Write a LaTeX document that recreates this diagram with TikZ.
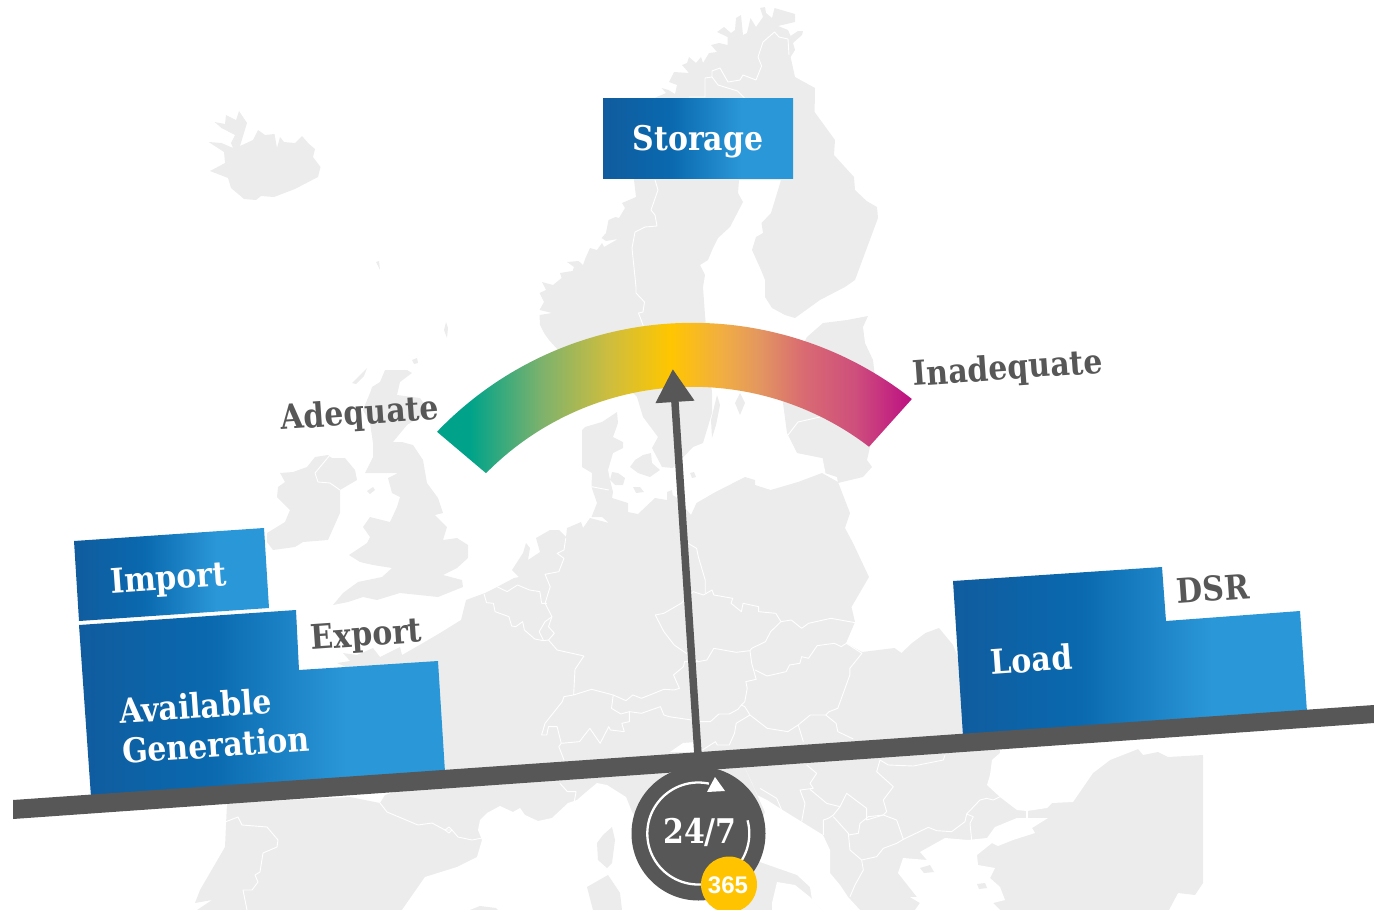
\documentclass[tikz,border=0pt]{standalone}
\usepackage{fontspec}
\setmainfont{DejaVu Serif}[FakeStretch=0.88]
\newfontfamily\numfont{Liberation Sans}
\usetikzlibrary{arrows.meta}
\definecolor{land}{HTML}{ECECEC}
\definecolor{ink}{HTML}{575757}
\definecolor{gold}{HTML}{FFC300}
\definecolor{gTeal}{HTML}{00A38A}
\definecolor{gGrn}{HTML}{7DB26C}
\definecolor{gOlv}{HTML}{CDBD3F}
\definecolor{gYel}{HTML}{FFC600}
\definecolor{gOra}{HTML}{F1AE42}
\definecolor{gTan}{HTML}{E39660}
\definecolor{gPink}{HTML}{D96B72}
\definecolor{gRose}{HTML}{CE4F7C}
\definecolor{gMag}{HTML}{BD0F83}
\definecolor{bA}{HTML}{105C9E}
\definecolor{bB}{HTML}{0A69AF}
\definecolor{bC}{HTML}{2A97D8}
\pgfdeclarehorizontalshading{gaugegrad}{100bp}{color(0bp)=(gTeal); color(28.5bp)=(gTeal); color(36bp)=(gGrn); color(43bp)=(gOlv); color(49.5bp)=(gYel); color(55bp)=(gOra); color(59bp)=(gTan); color(63.5bp)=(gPink); color(69bp)=(gRose); color(75bp)=(gMag); color(100bp)=(gMag)}
\pgfdeclarehorizontalshading{bluegrad}{100bp}{color(0bp)=(bA); color(25bp)=(bA); color(43bp)=(bB); color(61.5bp)=(bC); color(100bp)=(bC)}
\tikzset{
  landfill/.style={fill=land,draw=none},
  sea/.style={fill=white,draw=none},
  border/.style={draw=white,line width=0.9pt,line join=round,fill=none},
  zoomA/.style={shift={(440,440)},x=0.3444pt,y=-0.3333pt},
  zoomB/.style={shift={(760,740)},x=0.3333pt,y=-0.3333pt},
  slab/.style={font=\fontsize{34}{40}\selectfont\bfseries,inner sep=0pt},
  whitelabel/.style={slab,text=white,rotate=4},
  greylabel/.style={slab,text=ink,rotate=4},
  blueblock/.style={shading=bluegrad},
}
\begin{document}
\begin{tikzpicture}[x=1pt,y=-1pt]
\useasboundingbox (0,0) rectangle (1374,910);
% ---------- map: land ----------
% Iceland
\path[landfill] (208.6,142)--(224,152)--(225,163)--(210,171)--(228,178)--(231,188)--(244,199)--(256,200)--(261,196)--(274,197)--(295,189)--(318,177)--(320.5,167)--(313,157)--(315,149)--(309,144)--(302,136)--(295,143)--(284,142)--(280,137)--(277,148)--(274.5,134)--(265,135)--(258,130)--(253,140)--(240,146)--(247,123)--(239,111)--(236,120)--(226,115)--(225,124)--(214.5,122)--(221.5,128)--(235,135)--(231,143)--(233,148)--(221.5,143)--cycle;
\path[landfill] (376,262)--(379,261)--(380,270)--cycle;
\path[landfill] (446,322)--(448,328)--(447,338)--(444,330)--cycle;
% Great Britain
\path[landfill] (385,370)--(407,370)--(412,373)--(400,382)--(397,395)--(420,398)--(427,408)--(420,417)--(407,425)--(393,442)--(402,442)--(413,445)--(423,460)--(427,483)--(438,498)--(443,513)--(435,515)--(447,527)--(443,540)--(457,538)--(468,545)--(468,558)--(457,568)--(443,575)--(462,580)--(463,587)--(438,597)--(400,593)--(377,600)--(363,597)--(348,602)--(333,605)--(343,593)--(358,582)--(382,577)--(392,568)--(373,565)--(360,562)--(349,555)--(367,543)--(370,537)--(363,527)--(370,517)--(390,522)--(397,507)--(400,497)--(392,493)--(388,478)--(398,473)--(377,473)--(365,473)--(373,457)--(373,443)--(370,423)--(363,410)--(370,393)--(372,387)--(380,382)--cycle;
\path[landfill] (352,383)--(367,368)--(364,376)--(356,384)--cycle;
\path[landfill] (412,360)--(417,358)--(418,363)--(414,364)--cycle;
\path[landfill] (367,491)--(373,487)--(375,490)--(370,494)--cycle;
% Ireland
\path[landfill] (280,473)--(293,472)--(307,467)--(315,457)--(328,455)--(332,458)--(345,458)--(355,470)--(357,480)--(340,490)--(340,513)--(328,540)--(303,542)--(295,547)--(273,550)--(267,542)--(267,533)--(285,522)--(290,510)--(277,497)--(278,487)--(285,482)--cycle;
% Scandinavia and Finland
\path[landfill] (549,340)--(590,385)--(625,385)--(637,397)--(643,417)--(658,437)--(652,448)--(662,467)--(673,468)--(693,447)--(703,443)--(712,413)--(712,393)--(705,315)--(703,287)--(705,275)--(700,265)--(708,260)--(713,248)--(718,238)--(730,227)--(743,202)--(738,193)--(739,180)--(781,180)--(778,190)--(771,213)--(761.5,223)--(763,233)--(756,237)--(752,250)--(761,270)--(765,280)--(765,297)--(772,308)--(785,315)--(795,318)--(820,300)--(845,287)--(855,280)--(878,218)--(877,207)--(866.6,201)--(855,190)--(854,177)--(834,155)--(835,140)--(814.6,112)--(815,88)--(795,77)--(790.6,57)--(795,50)--(793,43)--(802,35)--(803,31)--(798,31)--(790.6,36)--(788,30)--(778,26)--(795,22)--(795,14)--(774.5,8)--(772,18)--(766,13)--(765,7)--(760,8)--(763,17)--(756,27)--(750.5,18)--(747,33)--(743,35)--(741,15)--(736,18)--(735,30)--(731,33)--(724,27)--(717,32)--(727.5,37)--(727.5,45)--(719,43)--(711,45)--(717,52)--(709,53)--(703,63)--(701,57)--(696,63)--(689,57)--(687,63)--(682,65)--(689,73)--(674,72)--(669,82)--(677,85)--(675,94)--(668.5,90)--(661.5,88)--(666,93)--(652,99)--(634,180)--(636,197)--(622,203)--(625,208)--(619,218)--(615.5,217)--(608.5,220)--(606,233)--(601.6,238)--(606,241)--(618,239)--(604,247)--(602,243)--(597,250)--(590,248)--(585.5,258)--(583,265)--(578.6,261)--(567,262)--(574,267)--(572.6,271)--(560,273)--(561.6,278)--(553,285)--(542,282)--(546,290)--(539.5,293)--(544,302)--(539.5,310)--(552,313)--(539.5,315)--(540,325)--(544,333)--cycle;
% Gotland, Oland
\path[landfill] (740,393)--(735,403)--(740,415)--(745,403)--cycle;
\path[landfill] (717,395)--(720,405)--(716,425)--(712,438)--(711,420)--cycle;
% Baltics
\path[landfill] (783,403)--(787,433)--(797,453)--(822,458)--(825,473)--(837,477)--(838,483)--(863,477)--(872,467)--(867,460)--(870,447)--(880,420)--(873,360)--(865,343)--(863,327)--(868,316)--(847,320)--(823,323)--(807,337)--(800,350)--(790,380)--cycle;
% Denmark islands
\path[landfill] (612,472)--(618,473)--(625,478)--(623,485)--(615,485)--(610,480)--cycle;
\path[landfill] (643,455)--(651,453)--(652,463)--(660,470)--(650,477)--(638,473)--(630,467)--(635,460)--cycle;
\path[landfill] (633,487)--(640,487)--(644,492)--(636,493)--cycle;
\path[landfill] (690,473)--(694,472)--(696,477)--(692,478)--cycle;
\path[landfill] (667,492)--(672,490)--(673,497)--(668,497)--cycle;
% Continental Europe
\path[landfill] (585,427)--(602,422)--(617,412)--(618,423)--(613,437)--(623,442)--(623,448)--(613,453)--(608,470)--(610,480)--(613,492)--(612,498)--(628,503)--(628,512)--(638,514)--(655,498)--(667,500)--(667,492)--(676,497)--(681,503)--(691,515)--(696.5,503)--(715.5,492)--(745,477)--(755,480)--(755,485)--(770.6,490)--(798,482)--(822,473)--(838,482)--(850,513)--(845,528)--(853,543)--(869,577)--(851.5,607)--(855,622)--(846,643)--(862,652)--(894.5,648)--(901.5,653)--(912,643)--(925.5,633)--(939,628)--(953,645)--(975,700)--(990,745)--(1138,749)--(1143,755)--(1158,752)--(1168,757)--(1203,755)--(1203,883)--(1195,895)--(1178,893)--(1169,910)--(197,910)--(212,900)--(195,903)--(200,890)--(225,847)--(227,803)--(350,797)--(380,803)--(385,795)--(430,780)--(420,700)--(337,663)--(350,661)--(343,653)--(357,655)--(373,648)--(380,657)--(400,647)--(402,655)--(423,643)--(440,633)--(461,620)--(466,600)--(485,593)--(497,587)--(514,578)--(519,577)--(512,570)--(523,553)--(526,543)--(530,548)--(528,560)--(540,552)--(536,538)--(550,530)--(559,530)--(566,537)--(567,528)--(581,522)--(583,528)--(590,518)--(609,523)--(602,517)--(591.5,517)--(597,503)--(591.5,487)--(592,473)--(582,467)--(582,430)--cycle;
% ---------- map: seas ----------
\path[sea] (402,910)--(425,877)--(457,867)--(477,857)--(482,840)--(478,830)--(480,820)--(487,813)--(500,806)--(513,812)--(520,808)--(525,815)--(538,821)--(552,818)--(568,803)--(577,800)--(585,793)--(597,783)--(607,785)--(626,797)--(632,812)--(690,880)--(715,910)--cycle;
\path[sea] (745,768)--(752,783)--(757,795)--(767,800)--(781,809)--(802,822)--(823,835)--(830,850)--(830,873)--(840,885)--(848,897)--(860,910)--(822,910)--(812,900)--(810,887)--(797,875)--(760,862)--(755,840)--(765,812)--cycle;
\path[sea] (777,882)--(795,885)--(810,897)--(822,910)--(772,910)--(772,903)--cycle;
\path[sea] (670,752)--(683,743)--(695,742)--(695,752)--cycle;
\path[sea] (915,910)--(920,903)--(910,897)--(917,897)--(898,873)--(903,858)--(927,860)--(920,852)--(945,838)--(968,840)--(987,838)--(995,827)--(1017,818)--(1048,818)--(1032,828)--(1035,833)--(1013,840)--(998,846)--(992,843)--(977,855)--(978,865)--(995,868)--(990,878)--(1000,887)--(1005,900)--(993,903)--(1000,910)--cycle;
\path[sea] (1000,745)--(1000,753)--(992,760)--(990,775)--(987,785)--(1000,797)--(1017,810)--(1027,811)--(1047,808)--(1052,803)--(1073,802)--(1093,773)--(1110,760)--(1138,749)--(1138,745)--cycle;
% islands
\path[landfill] (597,843)--(603,835)--(612,827)--(615,840)--(612,863)--(607,868)--(598,860)--cycle;
\path[landfill] (587,887)--(608,875)--(620,893)--(622,910)--(593,910)--cycle;
\path[landfill] (470,910)--(480,906)--(496,908)--(498,910)--cycle;
\path[landfill] (977,884)--(985,883)--(987,888)--(979,889)--cycle;
\path[landfill] (920,868)--(930,865)--(934,872)--(924,873)--cycle;
% ---------- map: borders ----------
\draw[border] (655,180)--(658,190)--(651,210)--(655,215)--(657,226)--(645,227)--(635,232)--(632,248)--(636,287)--(636,293)--(644.5,302)--(643,312)--(638.5,313)--(643,325)--(646,335);
\draw[border] (689,97)--(705,97)--(705,78)--(712,77)--(712,71)--(720,68)--(728,82)--(740,80)--(743,75)--(756,80)--(761.6,66)--(758,57)--(763,42)--(774.5,32)--(779,37)--(788,39)--(789,55);
\draw[border] (712,77)--(718,85)--(737.6,91)--(744.5,98);
\draw[border] (788,435)--(798,422)--(820,417);
\draw[border] (822,458)--(825,473);
\draw[border] (330,455)--(315,473)--(318,482)--(330,483)--(340,490);
\draw[border] (225,822)--(238,817)--(242,825)--(267,827)--(278,840)--(277,847)--(263,853)--(260,872)--(255,875)--(258,882)--(252,890)--(243,890)--(247,910);
\draw[border] (380,803)--(387,812)--(418,825)--(432,823)--(445,830)--(452,830)--(458,837)--(472,840)--(482,838);
\draw[border] (445,830)--(449,827)--(452,830)--(449,833)--cycle;
\begin{scope}[zoomA]
\draw[border] (128,462)--(135,488)--(155,490)--(160,515)--(200,530)--(208,558)--(220,560)--(240,545)--(245,570)--(275,597)--(300,602)--(315,600)--(340,630)--(418,648)--(392,688)--(388,765);
\draw[border] (388,765)--(360,770)--(355,785)--(305,850)--(295,885)--(310,885)--(315,860)--(340,860)--(352,910)--(345,920)--(360,960);
\draw[border] (352,910)--(405,905)--(420,885)--(435,865)--(465,910)--(490,860)--(495,870)--(535,875)--(528,850)--(550,845)--(550,815)--(525,822)--(498,805)--(503,765);
\draw[border] (388,765)--(440,748)--(503,765)--(540,782)--(560,765)--(585,775)--(650,748)--(680,750)--(695,745)--(678,705)--(707,680)--(710,665)--(750,665)--(775,660)--(795,625)--(860,637)--(900,632);
\draw[border] (550,815)--(585,820)--(640,800)--(650,825)--(665,830)--(730,840)--(760,845)--(785,845)--(810,822)--(840,822)--(865,808)--(875,795)--(885,800);
\draw[border] (900,632)--(905,670)--(918,718)--(888,725)--(892,745)--(885,785)--(875,795);
\draw[border] (625,525)--(650,520)--(700,490)--(735,455)--(765,465)--(790,450)--(795,465)--(850,475)--(845,490)--(875,515)--(880,490)--(925,500)--(925,515)--(975,520)--(990,545);
\draw[border] (625,525)--(650,575)--(680,615)--(715,640)--(750,665);
\draw[border] (990,545)--(960,575)--(945,605)--(905,625)--(900,632);
\draw[border] (990,545)--(1020,540)--(1050,565)--(1070,550)--(1135,535)--(1205,548);
\draw[border] (915,690)--(950,708)--(1005,695)--(1015,675)--(1045,670)--(1050,650)--(1070,655)--(1095,617)--(1145,610)--(1165,620)--(1180,610)--(1225,640)--(1190,685)--(1190,705)--(1155,805)--(1130,815)--(1120,825)--(1075,825)--(1040,855);
\draw[border] (720,310)--(745,325)--(750,350)--(770,420)--(770,460);
\draw[border] (885,800)--(900,825)--(950,865)--(1010,875)--(1040,855)--(1055,905);
\draw[border] (900,825)--(860,850)--(855,880)--(840,915)--(805,915)--(800,905)--(762,930);
\draw[border] (1120,825)--(1150,850)--(1155,875)--(1200,897);
\draw[border] (365,295)--(360,330)--(340,340)--(360,355)--(345,395)--(305,403)--(320,440)--(305,490)--(325,530)--(305,545)--(288,575)--(300,600);
\draw[border] (325,530)--(315,560)--(332,580)--(315,600);
\draw[border] (165,440)--(195,455)--(225,435)--(260,450)--(290,455)--(295,490)--(310,490);
\draw[border] (440,140)--(490,150);
\draw[border] (348,1030)--(370,1055)--(395,1055)--(390,1085);
\end{scope}
\begin{scope}[zoomB]
\draw[border] (140,75)--(170,100)--(150,130)--(160,145)--(120,150)--(135,190)--(125,245);
\draw[border] (150,148)--(200,190)--(240,200)--(260,160)--(320,205)--(320,240)--(370,225);
\draw[border] (240,200)--(220,225)--(205,235)--(190,240)--(190,285);
\draw[border] (220,230)--(265,280)--(270,330)--(305,360)--(350,350)--(370,325)--(410,310)--(430,298)--(505,262)--(530,272)--(575,275)--(615,245)--(620,222)--(640,230)--(630,250)--(635,300);
\draw[border] (265,285)--(295,280)--(300,250)--(325,230)--(370,225)--(410,240)--(430,298);
\draw[border] (370,225)--(380,215)--(370,180)--(400,140)--(350,95)--(360,60)--(385,75)--(460,78)--(550,60)--(555,45);
\draw[border] (305,360)--(310,390)--(285,435)--(270,470);
\draw[border] (620,222)--(660,180)--(680,175)--(700,180)--(720,170);
\draw[border,line width=2pt] (800,210)--(800,235);
\draw[border] (0,145)--(50,175)--(65,210);
\end{scope}
% ---------- gauge ----------
\begin{scope}
\clip plot[domain=136.2:51.7,samples=90] ({692.5+354*cos(\x)},{676.8-354*sin(\x)}) -- plot[domain=52.5:135.4,samples=90] ({692.5+290*cos(\x)},{676.8-290*sin(\x)}) -- cycle;
\shade[shading=gaugegrad] (437,300) rectangle (912,490);
\end{scope}
\node[greylabel] (adequate) at (360,415) {Adequate};
\node[greylabel] (inadequate) at (1008,370) {Inadequate};
% ---------- storage ----------
\node[rectangle,blueblock,minimum width=190pt,minimum height=80pt,inner sep=0pt] (storagebox) at (698,138.5) {};
\node[slab,text=white] (storage) at (698,142) {Storage};
% ---------- pointer ----------
\coordinate (pivot) at (698,755);
\coordinate (tip) at (672.8,369);
\draw[ink,line width=7.5pt,-{Triangle[length=33pt,width=37pt]}] (pivot) -- (tip);
% ---------- blocks ----------
\shade[blueblock] (74,541)--(264,528)--(269,608)--(79,621)--cycle;
\shade[blueblock] (79,625)--(296,610)--(299,670)--(438,661)--(445,772)--(91,797)--cycle;
\shade[blueblock] (953,581)--(1162,567)--(1166,621)--(1300,611)--(1307,712)--(963,736)--cycle;
% ---------- beam ----------
\fill[ink] (13,800)--(1374,705)--(1374,723)--(13,819)--cycle;
% ---------- hub ----------
\node[circle,fill=ink,minimum size=134pt,inner sep=0pt] (hub) at (698.5,833.5) {};
\draw[white,line width=2.3pt] plot[domain=78:300,samples=60] ({698.3+51*cos(\x)},{833.5-51*sin(\x)});
\draw[white,line width=2.3pt] plot[domain=15:-35,samples=20] ({698.3+51*cos(\x)},{833.5-51*sin(\x)});
\fill[white] (715,777)--(725,791)--(707,792)--cycle;
\node[circle,fill=gold,minimum size=56pt,inner sep=0pt] (badge) at (729,884.5) {};
\node[slab,text=white] (clock) at (700,832) {24/7};
\node[font=\fontsize{24}{28}\selectfont\numfont\bfseries,text=white,inner sep=0pt] (days) at (728,885.5) {365};
% ---------- labels ----------
\node[whitelabel] (import) at (168.5,580.5) {Import};
\node[greylabel] (export) at (366.5,637) {Export};
\node[whitelabel,align=left] (generation) at (214.5,724.5) {Available\\Generation};
\node[whitelabel] (load) at (1031.5,659) {Load};
\node[greylabel] (dsr) at (1213,588.5) {DSR};
\end{tikzpicture}
\end{document}
